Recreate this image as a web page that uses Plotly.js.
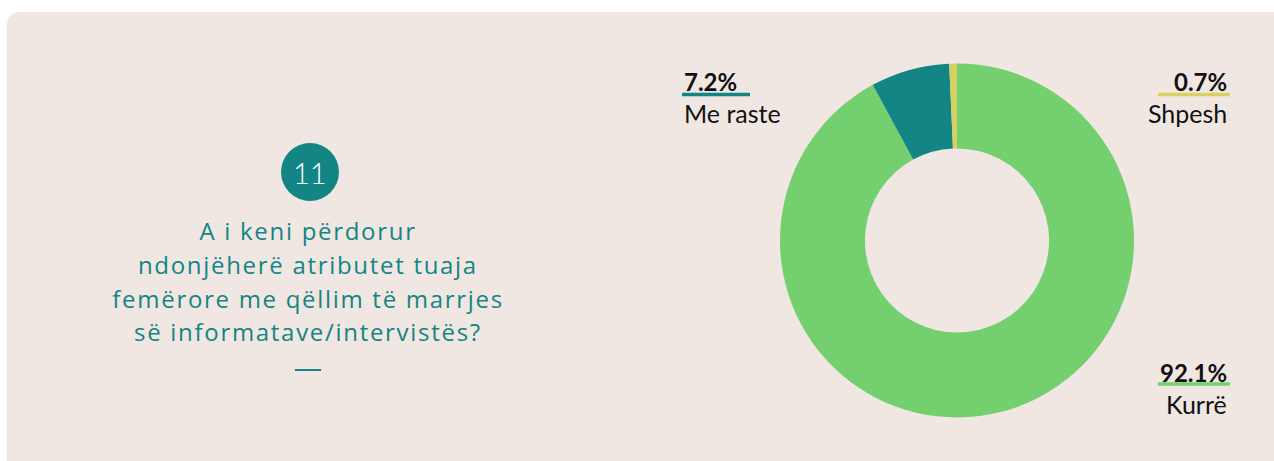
<!DOCTYPE html>
<html><head><meta charset="utf-8">
<script src="https://cdn.plot.ly/plotly-3.0.1.min.js"></script>
<style>html,body{margin:0;padding:0;background:#fff}#c{width:1274px;height:461px}
.annotation[data-index="1"] text,.annotation[data-index="2"] text,.annotation[data-index="3"] text,.annotation[data-index="4"] text{letter-spacing:1.7px}
</style>
</head><body><div id="c"></div>
<script>
const categories = ['Kurrë', 'Me raste', 'Shpesh'];
const values = [92.1, 7.2, 0.7];
const colors = ['#74d06e', '#138585', '#d6d162'];
const questionNumber = '11';
const questionLines = ['A i keni përdorur', 'ndonjëherë atributet tuaja', 'femërore me qëllim të marrjes', 'së informatave/intervistës?'];

const W = 1274, H = 461;
const px = x => x / W, py = y => 1 - y / H;
const teal = '#138585';

const shapes = [];
shapes.push({type: 'path', xref: 'paper', yref: 'paper', layer: 'below',
  path: `M ${px(7)},${py(461)} L ${px(7)},${py(26)} Q ${px(7)},${py(12)} ${px(21)},${py(12)} L ${px(1274)},${py(12)} L ${px(1274)},${py(461)} Z`,
  fillcolor: '#f0e7e2', line: {width: 0}});
shapes.push({type: 'circle', xref: 'paper', yref: 'paper', layer: 'below',
  x0: px(281), x1: px(339), y0: py(201), y1: py(143), fillcolor: teal, line: {width: 0}});
shapes.push({type: 'line', xref: 'paper', yref: 'paper', x0: px(295), x1: px(321), y0: py(370), y1: py(370), line: {color: teal, width: 2}});

const annotations = [];
annotations.push({xref: 'paper', yref: 'paper', x: px(310), y: py(172), text: questionNumber, showarrow: false,
  font: {family: 'Lato', size: 29, weight: 300, color: '#ffffff'}, xanchor: 'center', yanchor: 'middle'});
const lineBaselines = [238, 272, 306, 339];
questionLines.forEach((t, i) => {
  annotations.push({xref: 'paper', yref: 'paper', x: px(308), y: py(lineBaselines[i] - 8), text: t, showarrow: false,
    font: {family: 'Open Sans', size: 24, color: teal}, xanchor: 'center', yanchor: 'middle', align: 'center'});
});

const labelPos = [
  {x: 1229, yPct: 372, yLbl: 404, anchor: 'right', ul: [1158, 1230, 384]},
  {x: 682, yPct: 82, yLbl: 113, anchor: 'left', ul: [682, 750, 94.5]},
  {x: 1229, yPct: 82, yLbl: 113, anchor: 'right', ul: [1158, 1230, 94.5]}
];
categories.forEach((c, i) => {
  const p = labelPos[i];
  annotations.push({xref: 'paper', yref: 'paper', x: px(p.x), y: py(p.yPct), text: '<b>' + values[i].toFixed(1) + '%</b>',
    showarrow: false, xanchor: p.anchor, yanchor: 'middle', font: {family: 'Lato', size: 24, weight: 900, color: '#111'}});
  annotations.push({xref: 'paper', yref: 'paper', x: px(p.x), y: py(p.yLbl), text: c,
    showarrow: false, xanchor: p.anchor, yanchor: 'middle', font: {family: 'Lato', size: 25, color: '#111'}});
  shapes.push({type: 'line', xref: 'paper', yref: 'paper', x0: px(p.ul[0]), x1: px(p.ul[1]), y0: py(p.ul[2]), y1: py(p.ul[2]),
    line: {color: colors[i], width: 3.5}});
});

const data = [{type: 'pie', labels: categories, values: values, sort: false, direction: 'clockwise', rotation: 0,
  hole: 0.52, marker: {colors: colors, line: {width: 0}}, textinfo: 'none', hoverinfo: 'label+percent',
  domain: {x: [px(780), px(1134)], y: [py(418), py(63)]}, showlegend: false}];

const layout = {width: W, height: H, margin: {l: 0, r: 0, t: 0, b: 0}, paper_bgcolor: '#ffffff', plot_bgcolor: '#ffffff',
  showlegend: false, shapes: shapes, annotations: annotations};
Plotly.newPlot('c', data, layout, {displayModeBar: false, staticPlot: true});
</script></body></html>
